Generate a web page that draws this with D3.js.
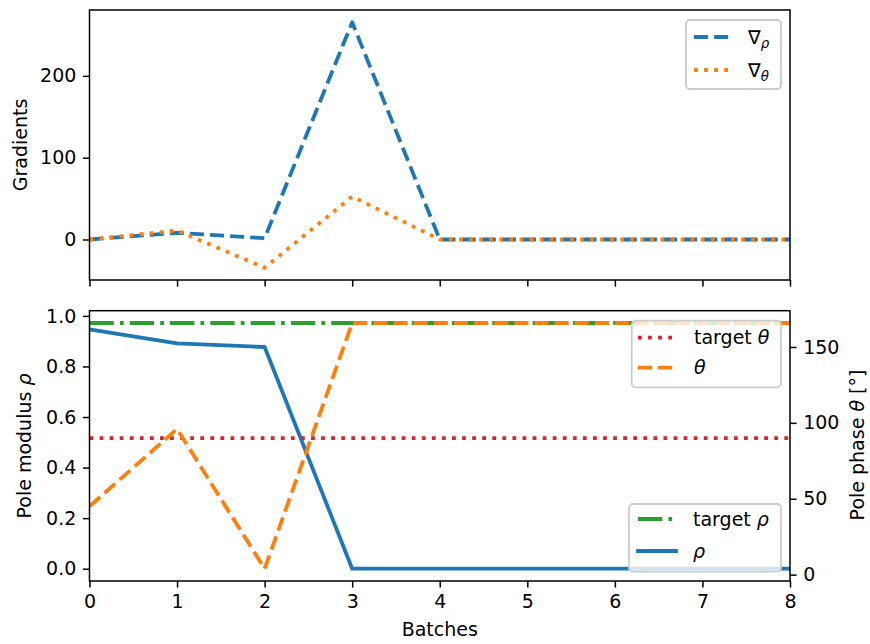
<!DOCTYPE html>
<html>
<head>
<meta charset="utf-8">
<script src="https://cdn.jsdelivr.net/npm/d3@7"></script>
<style>
  html, body { margin: 0; padding: 0; background: #fff; }
  svg { display: block; font-family: "DejaVu Sans", sans-serif; }
</style>
</head>
<body>
<svg id="chart" width="870" height="644"></svg>
<script>
// Training history: gradients (top) and pole parameters (bottom) per batch
const batches = [0, 1, 2, 3, 4, 5, 6, 7, 8];
const gradRho = [0, 8.2, 1.6, 265.5, 0, 0, 0, 0, 0];
const gradTheta = [0, 11, -34.5, 52.5, 0, 0, 0, 0, 0];
const rho = [0.947, 0.891, 0.877, 0, 0, 0, 0, 0, 0];
const theta = [45, 96, 3.9, 165.8, 165.8, 165.8, 165.8, 165.8, 165.8];
const targetRho = 0.972;
const targetTheta = 90;

const xTicks = [0, 1, 2, 3, 4, 5, 6, 7, 8];
const gradTicks = [0, 100, 200];
const rhoTicks = [0, 0.2, 0.4, 0.6, 0.8, 1.0];
const thetaTicks = [0, 50, 100, 150];

const C = { blue: "#1f77b4", orange: "#ff7f0e", green: "#2ca02c", red: "#d62728" };
const LW = 3.8;
const DASH = [3.7 * LW, 1.6 * LW].join(",");
const DOT = [1 * LW, 1.65 * LW].join(",");
const DASHDOT = [6.4 * LW, 1.6 * LW, 1 * LW, 1.6 * LW].join(",");
const FS = 19;
const TICK = 6.6;

const svg = d3.select("#chart");
const L = 89.5, R = 790;
const top1 = 10, bot1 = 280, top2 = 310.7, bot2 = 581;

// matplotlib-style 5% padding around the data range
function padded(vals) {
  const lo = d3.min(vals), hi = d3.max(vals), m = (hi - lo) * 0.05;
  return [lo - m, hi + m];
}

const x = d3.scaleLinear().domain([0, 8]).range([L, R]);
const yG = d3.scaleLinear().domain(padded(gradRho.concat(gradTheta))).range([bot1, top1]);
const yR = d3.scaleLinear().domain(padded(rho.concat([targetRho]))).range([bot2, top2]);
const yT = d3.scaleLinear().domain(padded(theta.concat([targetTheta]))).range([bot2, top2]);

const defs = svg.append("defs");
defs.append("clipPath").attr("id", "clipTop").append("rect")
  .attr("x", L).attr("y", top1).attr("width", R - L).attr("height", bot1 - top1);
defs.append("clipPath").attr("id", "clipBot").append("rect")
  .attr("x", L).attr("y", top2).attr("width", R - L).attr("height", bot2 - top2);

function series(g, xs, ys, yScale, color, dash, cap) {
  const line = d3.line().x((d, i) => x(xs[i])).y(d => yScale(d));
  g.append("path").datum(ys)
    .attr("d", line)
    .attr("fill", "none")
    .attr("stroke", color)
    .attr("stroke-width", LW)
    .attr("stroke-dasharray", dash || null)
    .attr("stroke-linecap", cap || "butt")
    .attr("stroke-linejoin", "round");
}

function styleAxis(g) {
  g.select(".domain").remove();
  g.selectAll(".tick line").attr("stroke", "#000").attr("stroke-width", 1.5);
  g.selectAll(".tick text").attr("fill", "#000").attr("font-size", FS)
    .attr("font-family", "DejaVu Sans");
}

function frame(t, b) {
  svg.append("rect").attr("x", L).attr("y", t).attr("width", R - L).attr("height", b - t)
    .attr("fill", "none").attr("stroke", "#000").attr("stroke-width", 1.5);
}

// ---------- top panel: gradients ----------
const gTop = svg.append("g").attr("clip-path", "url(#clipTop)");
series(gTop, batches, gradRho, yG, C.blue, DASH);
series(gTop, batches, gradTheta, yG, C.orange, DOT);

svg.append("g").attr("transform", `translate(${L},0)`)
  .call(d3.axisLeft(yG).tickValues(gradTicks).tickSize(TICK).tickPadding(6.6).tickFormat(d3.format("d")))
  .call(styleAxis);
svg.append("g").attr("transform", `translate(0,${bot1})`)
  .call(d3.axisBottom(x).tickValues(xTicks).tickSize(TICK).tickFormat(""))
  .call(styleAxis);
frame(top1, bot1);

svg.append("text").attr("transform", `translate(27,${(top1 + bot1) / 2}) rotate(-90)`)
  .attr("text-anchor", "middle").attr("font-size", FS).text("Gradients");

// ---------- bottom panel: pole modulus and phase ----------
const gBot = svg.append("g").attr("clip-path", "url(#clipBot)");
function hline(g, v, yScale, color, dash) {
  g.append("line").attr("x1", x(0)).attr("x2", x(8))
    .attr("y1", yScale(v)).attr("y2", yScale(v))
    .attr("stroke", color).attr("stroke-width", LW)
    .attr("stroke-dasharray", dash).attr("stroke-linecap", "butt");
}
hline(gBot, targetRho, yR, C.green, DASHDOT);
series(gBot, batches, rho, yR, C.blue, null, "square");

svg.append("g").attr("transform", `translate(${L},0)`)
  .call(d3.axisLeft(yR).tickValues(rhoTicks).tickSize(TICK).tickPadding(6.6).tickFormat(d3.format(".1f")))
  .call(styleAxis);
svg.append("g").attr("transform", `translate(0,${bot2})`)
  .call(d3.axisBottom(x).tickValues(xTicks).tickSize(TICK).tickPadding(6.6).tickFormat(d3.format("d")))
  .call(styleAxis);

// legend helper (matplotlib look: rounded, translucent white, light grey edge)
function legend(box, handleX, textX, rows) {
  const g = svg.append("g");
  g.append("rect").attr("x", box[0]).attr("y", box[1])
    .attr("width", box[2] - box[0]).attr("height", box[3] - box[1])
    .attr("rx", 4).attr("ry", 4)
    .attr("fill", "#fff").attr("fill-opacity", 0.8)
    .attr("stroke", "#cccccc").attr("stroke-width", 1.8);
  rows.forEach(r => {
    g.append("line").attr("x1", handleX[0]).attr("x2", handleX[1])
      .attr("y1", r.y).attr("y2", r.y)
      .attr("stroke", r.color).attr("stroke-width", LW)
      .attr("stroke-dasharray", r.dash || null)
      .attr("stroke-linecap", r.dash ? "butt" : "square");
    const t = g.append("text").attr("x", textX).attr("y", r.y + 6.5).attr("font-size", FS);
    r.parts.forEach(p => {
      const s = t.append("tspan").text(p.t);
      if (p.i) s.attr("font-style", "italic");
      if (p.sub) s.attr("font-size", FS * 0.7).attr("dy", 4).attr("font-style", "italic");
    });
  });
}

legend([629, 504, 781, 571.7], [638, 676], 693, [
  { y: 519, color: C.green, dash: DASHDOT, parts: [{ t: "target " }, { t: "ρ", i: true }] },
  { y: 551, color: C.blue, dash: null, parts: [{ t: "ρ", i: true }] }
]);

// right-hand axis drawn over the left one
const gBot2 = svg.append("g").attr("clip-path", "url(#clipBot)");
hline(gBot2, targetTheta, yT, C.red, DOT);
series(gBot2, batches, theta, yT, C.orange, DASH);

svg.append("g").attr("transform", `translate(${R},0)`)
  .call(d3.axisRight(yT).tickValues(thetaTicks).tickSize(TICK).tickPadding(6.6).tickFormat(d3.format("d")))
  .call(styleAxis);
frame(top2, bot2);

legend([631.7, 320.7, 781, 387.3], [638, 676], 694, [
  { y: 337.7, color: C.red, dash: DOT, parts: [{ t: "target " }, { t: "θ", i: true }] },
  { y: 367.7, color: C.orange, dash: DASH, parts: [{ t: "θ", i: true }] }
]);

legend([686, 20, 781, 89], [694, 731], 748, [
  { y: 37, color: C.blue, dash: DASH, parts: [{ t: "∇" }, { t: "ρ", sub: true }] },
  { y: 70, color: C.orange, dash: DOT, parts: [{ t: "∇" }, { t: "θ", sub: true }] }
]);

const lab1 = svg.append("text").attr("transform", `translate(30.5,446) rotate(-90)`)
  .attr("text-anchor", "middle").attr("font-size", FS);
lab1.append("tspan").text("Pole modulus ");
lab1.append("tspan").attr("font-style", "italic").text("ρ");

const lab2 = svg.append("text").attr("transform", `translate(864,445) rotate(-90)`)
  .attr("text-anchor", "middle").attr("font-size", FS);
lab2.append("tspan").text("Pole phase ");
lab2.append("tspan").attr("font-style", "italic").text("θ");
lab2.append("tspan").text(" [°]");

svg.append("text").attr("x", (L + R) / 2).attr("y", 636)
  .attr("text-anchor", "middle").attr("font-size", FS).text("Batches");
</script>
</body>
</html>
